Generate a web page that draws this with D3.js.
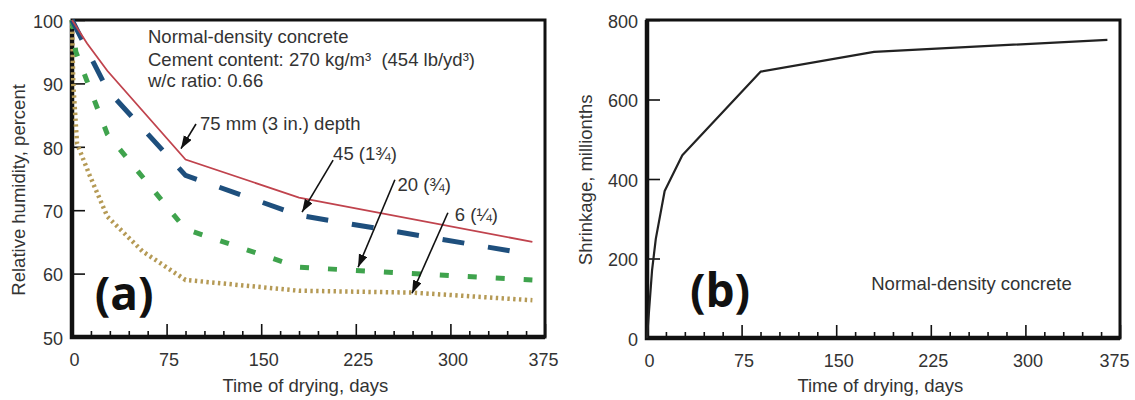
<!DOCTYPE html>
<html>
<head>
<meta charset="utf-8">
<script src="https://cdn.jsdelivr.net/npm/d3@7"></script>
<style>
  body { margin: 0; background: #fff; }
  svg { display: block; font-family: "Liberation Sans", Arial, sans-serif; }
  .tick text { font-size: 18px; fill: #333; }
  .tick line { stroke: #111; stroke-width: 1.6; }
</style>
</head>
<body>
<script>
// (a) relative humidity by depth, percent
const days75 = [0, 12, 28, 90, 180, 365];
const rh75 = [100, 96.3, 92, 78, 72, 65];
const days45 = [0, 28, 90, 180, 365];
const rh45 = [100, 89, 75.5, 69.2, 63];
const days20 = [0, 3, 28, 90, 180, 225, 365];
const rh20 = [100, 95, 82, 67, 61, 60.5, 59];
const days6 = [0, 1, 4, 14, 28, 56, 90, 180, 270, 365];
const rh6 = [100, 90, 80.5, 75.5, 69, 63.5, 59, 57.3, 57, 55.8];

// (b) drying shrinkage, millionths
const daysShr = [0, 4, 7, 14, 28, 90, 180, 365];
const shrink = [0, 170, 250, 370, 460, 670, 720, 750];

// tick labels
const xTicks = [0, 75, 150, 225, 300, 375];
const rhTicks = [50, 60, 70, 80, 90, 100];
const shrTicks = [0, 200, 400, 600, 800];

const depthLabels = ["75 mm (3 in.) depth", "45 (1\u00BE)", "20 (\u00BE)", "6 (\u00BC)"];

const w = 1135, h = 400;

const svg = d3.select("body").append("svg")
    .attr("width", w)
    .attr("height", h);

// arrowhead
svg.append("defs").append("marker")
    .attr("id", "head")
    .attr("markerUnits", "userSpaceOnUse")
    .attr("markerWidth", 14)
    .attr("markerHeight", 10)
    .attr("refX", 13)
    .attr("refY", 4.5)
    .attr("orient", "auto")
  .append("path")
    .attr("d", "M0,0 L13,4.5 L0,9 Z")
    .attr("fill", "#111");

const xA = d3.scaleLinear().domain([0, 375]).range([72, 545]);
const yA = d3.scaleLinear().domain([50, 100]).range([337, 20]);
const xB = d3.scaleLinear().domain([0, 375]).range([647, 1120]);
const yB = d3.scaleLinear().domain([0, 800]).range([338, 20]);

const minorX = d3.range(15, 375, 15).filter(d => d % 75 !== 0);

function frame(x, y, yTicks, lastShift) {
    let g = svg.append("g");
    let x0 = x.range()[0], x1 = x.range()[1];
    let y0 = y.range()[0], y1 = y.range()[1];

    // minor ticks
    g.append("g")
        .attr("transform", `translate(0,${y0})`)
        .call(d3.axisBottom(x).tickValues(minorX).tickSize(-6).tickFormat(""))
        .call(a => a.select(".domain").remove());

    // major ticks + labels
    g.append("g")
        .attr("transform", `translate(0,${y0})`)
        .call(d3.axisBottom(x).tickValues(xTicks).tickSize(-13).tickPadding(16))
        .call(a => a.select(".domain").remove())
        .selectAll("text").attr("dx", d => d === 375 ? lastShift : 2);

    g.append("g")
        .attr("transform", `translate(${x0},0)`)
        .call(d3.axisLeft(y).tickValues(yTicks).tickSize(-13).tickPadding(9))
        .call(a => a.select(".domain").remove())
        .selectAll("text").attr("dy", "0.4em");

    // box
    g.append("rect")
        .attr("x", x0).attr("y", y1)
        .attr("width", x1 - x0).attr("height", y0 - y1)
        .attr("fill", "none")
        .attr("stroke", "#111")
        .attr("stroke-width", 3);

    g.append("path")
        .attr("d", `M${x0},${y1}V${y0}H${x1}`)
        .attr("fill", "none")
        .attr("stroke", "#111")
        .attr("stroke-width", 4.5);
    return g;
}

frame(xA, yA, rhTicks, -2);
frame(xB, yB, shrTicks, -6);

// axis titles
svg.append("text")
    .attr("x", xA(185)).attr("y", 392)
    .attr("text-anchor", "middle")
    .attr("font-size", 18.5).attr("fill", "#333")
    .text("Time of drying, days");
svg.append("text")
    .attr("x", xB(185)).attr("y", 392)
    .attr("text-anchor", "middle")
    .attr("font-size", 18.5).attr("fill", "#333")
    .text("Time of drying, days");
svg.append("text")
    .attr("transform", `translate(25,${yA(73.2)}) rotate(-90)`)
    .attr("text-anchor", "middle")
    .attr("font-size", 18.5).attr("fill", "#333")
    .text("Relative humidity, percent");
svg.append("text")
    .attr("transform", `translate(592,${yB(398)}) rotate(-90)`)
    .attr("text-anchor", "middle")
    .attr("font-size", 18.5).attr("fill", "#333")
    .text("Shrinkage, millionths");

// humidity curves
const lineA = d3.line().x(d => xA(d[0])).y(d => yA(d[1]));
const series = [
    { d: d3.zip(days6, rh6), color: "#b59a55", width: 4.5, dash: "2.4,3.4" },
    { d: d3.zip(days20, rh20), color: "#3fa34d", width: 5, dash: "9,19" },
    { d: d3.zip(days45, rh45), color: "#1e4f7d", width: 5, dash: "22,24" },
    { d: d3.zip(days75, rh75), color: "#c0434d", width: 1.8, dash: null }
];

svg.append("g").selectAll("path")
    .data(series)
    .enter()
    .append("path")
    .attr("d", s => lineA(s.d))
    .attr("fill", "none")
    .attr("stroke", s => s.color)
    .attr("stroke-width", s => s.width)
    .attr("stroke-dasharray", s => s.dash);

// shrinkage curve
const lineB = d3.line().x(d => xB(d[0])).y(d => yB(d[1]));
svg.append("path")
    .attr("d", lineB(d3.zip(daysShr, shrink)))
    .attr("fill", "none")
    .attr("stroke", "#222")
    .attr("stroke-width", 2.2)
    .attr("stroke-linejoin", "round");

// notes
const note = svg.append("g").attr("font-size", 18.5).attr("fill", "#333");
note.append("text").attr("x", 148).attr("y", 43).text("Normal-density concrete");
note.append("text").attr("x", 148).attr("y", 66).text("Cement content: 270 kg/m\u00B3 \u00A0(454 lb/yd\u00B3)");
note.append("text").attr("x", 148).attr("y", 87).text("w/c ratio: 0.66");
note.append("text")
    .attr("x", (xB(0) + xB(375)) / 2 + 88).attr("y", 290)
    .attr("text-anchor", "middle")
    .text("Normal-density concrete");

// depth labels with arrows (tail / tip in data units)
const arrows = [
    { tail: [98.3, 83.6], tip: [86.4, 79.7], lab: [101.5, 82.6] },
    { tail: [207, 77.9], tip: [182.4, 69.7], lab: [207, 77.9] },
    { tail: [256, 74.8], tip: [226.8, 61.0], lab: [258, 73.1] },
    { tail: [298, 69.6], tip: [269.6, 56.9], lab: [303.5, 68.3] }
];

svg.append("g").selectAll("line")
    .data(arrows)
    .enter()
    .append("line")
    .attr("x1", d => xA(d.tail[0])).attr("y1", d => yA(d.tail[1]))
    .attr("x2", d => xA(d.tip[0])).attr("y2", d => yA(d.tip[1]))
    .attr("stroke", "#111")
    .attr("stroke-width", 1.6)
    .attr("marker-end", "url(#head)");

note.selectAll(".depth")
    .data(arrows)
    .enter()
    .append("text")
    .attr("class", "depth")
    .attr("x", d => xA(d.lab[0])).attr("y", d => yA(d.lab[1]))
    .text((d, i) => depthLabels[i]);

// panel letters
svg.append("text")
    .attr("x", xA(18)).attr("y", yA(54.3))
    .attr("font-family", "'Open Sans', sans-serif")
    .attr("font-weight", "bold")
    .attr("font-size", 46)
    .attr("fill", "#111")
    .text("(a)");
svg.append("text")
    .attr("x", xB(34)).attr("y", yB(78))
    .attr("font-family", "'Open Sans', sans-serif")
    .attr("font-weight", "bold")
    .attr("font-size", 46)
    .attr("fill", "#111")
    .text("(b)");
</script>
</body>
</html>
